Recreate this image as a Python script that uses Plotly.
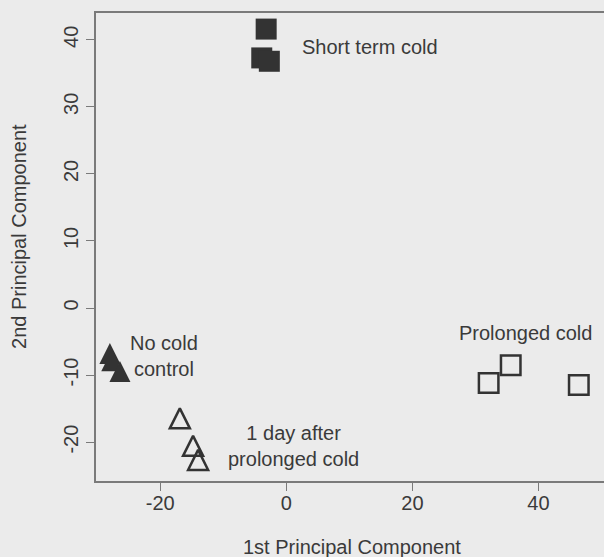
import plotly.graph_objects as go

# Data (PC1, PC2)
short_x = [-3.2, -3.9, -2.7]
short_y = [41.6, 37.3, 36.8]
nocold_x = [-28.0, -27.7, -26.4]
nocold_y = [-7.3, -8.4, -10.0]
dayafter_x = [-16.9, -14.8, -14.0]
dayafter_y = [-16.9, -21.0, -23.1]
prolonged_x = [32.1, 35.6, 46.4]
prolonged_y = [-11.2, -8.55, -11.5]

x_ticks = [-20, 0, 20, 40]
x_ticktext = ["-20", "0", "20", "40"]
y_ticks = [-20, -10, 0, 10, 20, 30, 40]
y_ticktext = ["-20", "-10", "0", "10", "20", "30", "40"]

ink = "#333333"
txt = "#3a3a3a"
axc = "#7a7a7a"
bg = "#ebebeb"
FONT = "Liberation Sans, Arial, sans-serif"

fig = go.Figure()
fig.add_trace(go.Scatter(x=short_x, y=short_y, mode="markers",
                         marker=dict(symbol="square", size=21, color=ink, line=dict(width=0))))
fig.add_trace(go.Scatter(x=nocold_x, y=nocold_y, mode="markers",
                         marker=dict(symbol="arrow-down", angle=180, size=21, color=ink,
                                     standoff=14, line=dict(width=0))))
fig.add_trace(go.Scatter(x=dayafter_x, y=dayafter_y, mode="markers",
                         marker=dict(symbol="arrow-down-open", angle=180, size=20, color=ink,
                                     standoff=13, line=dict(width=2.5, color=ink))))
fig.add_trace(go.Scatter(x=prolonged_x, y=prolonged_y, mode="markers",
                         marker=dict(symbol="square-open", size=19.5, color=ink,
                                     line=dict(width=2.5, color=ink))))

labels = [
    dict(text="Short term cold", x=2.1, y=38.9, xanchor="left"),
    dict(text="No cold<br>control", x=-19.4, y=-7.2, xanchor="center"),
    dict(text="1 day after<br>prolonged cold", x=1.1, y=-20.6, xanchor="center"),
    dict(text="Prolonged cold", x=37.9, y=-3.7, xanchor="center"),
]
for a in labels:
    fig.add_annotation(text=a["text"], x=a["x"], y=a["y"], xref="x", yref="y",
                       xanchor=a["xanchor"], yanchor="middle", showarrow=False,
                       font=dict(family=FONT, size=20, color=txt))

fig.add_annotation(text="1st Principal Component", x=0.504, y=-0.141, xref="paper", yref="paper",
                   xanchor="center", yanchor="middle", showarrow=False,
                   font=dict(family=FONT, size=20, color=txt))
fig.add_annotation(text="2nd Principal Component", x=-0.1516, y=0.5235, xref="paper", yref="paper",
                   xanchor="center", yanchor="middle", showarrow=False, textangle=-90,
                   font=dict(family=FONT, size=20, color=txt))

fig.update_layout(
    width=604, height=557,
    margin=dict(l=96, r=0, t=13, b=76),
    paper_bgcolor=bg, plot_bgcolor=bg,
    showlegend=False,
    font=dict(family=FONT, size=20, color=txt),
)
fig.update_xaxes(range=[-30.2, 50.4], tickvals=x_ticks, ticktext=x_ticktext,
                 ticks="outside", ticklen=8, ticklabelstandoff=-5,
                 tickcolor=axc, tickwidth=1.2, showline=True, linecolor=axc, linewidth=1.5,
                 mirror=True, showgrid=False, zeroline=False,
                 tickfont=dict(family=FONT, size=20, color=txt))
fig.update_yaxes(range=[-25.8, 44.0], tickvals=y_ticks, ticktext=y_ticktext,
                 ticks="outside", ticklen=8,
                 tickcolor=axc, tickwidth=1.2, showline=True, linecolor=axc, linewidth=1.5,
                 showgrid=False, zeroline=False, tickangle=-90,
                 tickfont=dict(family=FONT, size=20, color=txt))

fig.write_html("out.html", config={"displayModeBar": False},
               post_script="document.body.style.margin='0';document.body.style.background='%s';" % bg)
